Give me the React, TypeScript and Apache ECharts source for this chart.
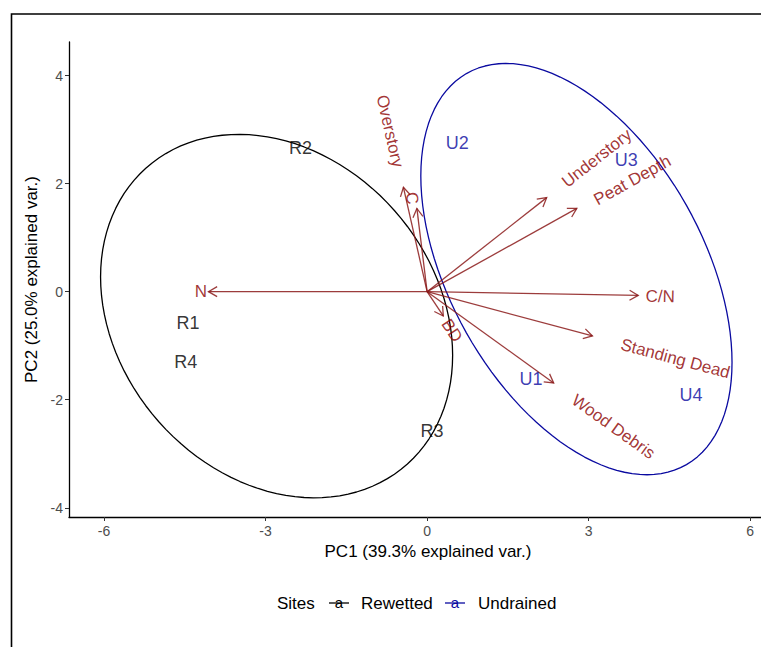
import React, { useEffect, useRef } from "react";
import * as echarts from "echarts";

// Site scores (PC1, PC2)
const siteNames = ["R1", "R2", "R3", "R4", "U1", "U2", "U3", "U4"];
const siteGroups = ["Rewetted", "Rewetted", "Rewetted", "Rewetted", "Undrained", "Undrained", "Undrained", "Undrained"];
const sitePC1 = [-4.44, -2.35, 0.09, -4.48, 1.93, 0.56, 3.7, 4.9];
const sitePC2 = [-0.58, 2.65, -2.58, -1.3, -1.61, 2.76, 2.43, -1.91];

// Variable loadings (arrow tips)
const varNames = ["N", "C/N", "Standing Dead", "Wood Debris", "BD", "Understory", "Peat Depth", "C", "Overstory"];
const varPC1 = [-4.06, 3.92, 3.07, 2.35, 0.3, 2.22, 2.78, -0.19, -0.44];
const varPC2 = [0.0, -0.07, -0.82, -1.69, -0.45, 1.74, 1.54, 1.54, 1.93];
// Label anchor positions (data units)
const varLabelPC1 = [-4.2, 4.33, 4.61, 3.46, 0.46, 3.15, 3.81, -0.28, -0.69];
const varLabelPC2 = [0.0, -0.09, -1.24, -2.5, -0.72, 2.47, 2.06, 1.73, 2.97];

const groups = ["Rewetted", "Undrained"];
const groupColors = ["#000000", "#0a0aa0"];
const xTicks = [-6, -3, 0, 3, 6];
const yTicks = [-4, -2, 0, 2, 4];

const FONT = "'Liberation Sans', Arial, sans-serif";
const VAR_COLOR = "#8B0000";

function ellipseFor(group: string): number[][] {
  const xs: number[] = [];
  const ys: number[] = [];
  siteGroups.forEach((g, i) => {
    if (g === group) {
      xs.push(sitePC1[i]);
      ys.push(sitePC2[i]);
    }
  });
  const n = xs.length;
  const mx = xs.reduce((a, b) => a + b, 0) / n;
  const my = ys.reduce((a, b) => a + b, 0) / n;
  let sxx = 0, syy = 0, sxy = 0;
  for (let i = 0; i < n; i++) {
    sxx += (xs[i] - mx) ** 2;
    syy += (ys[i] - my) ** 2;
    sxy += (xs[i] - mx) * (ys[i] - my);
  }
  sxx /= n - 1; syy /= n - 1; sxy /= n - 1;
  const a = Math.sqrt(sxx);
  const b = sxy / a;
  const c = Math.sqrt(syy - b * b);
  const ed = Math.sqrt(-2 * Math.log(1 - 0.68));
  const pts: number[][] = [];
  const N = 120;
  for (let k = 0; k <= N; k++) {
    const t = -Math.PI + (2 * Math.PI * k) / N;
    const ct = Math.cos(t), st = Math.sin(t);
    pts.push([mx + ed * ct * a, my + ed * (ct * b + st * c)]);
  }
  return pts;
}

export default function App() {
  const ref = useRef<HTMLDivElement>(null);
  useEffect(() => {
    if (!ref.current) return;
    const chart = echarts.init(ref.current, null, { renderer: "svg" });

    const ellipseSeries = groups.map((g, gi) => ({
      type: "line",
      name: g,
      data: ellipseFor(g),
      showSymbol: false,
      symbol: "none",
      smooth: false,
      lineStyle: { color: groupColors[gi], width: 1.3 },
      z: 2,
      silent: true,
    }));

    const siteSeries = {
      type: "scatter",
      symbolSize: 1,
      itemStyle: { color: "transparent" },
      data: siteNames.map((nm, i) => ({
        value: [sitePC1[i], sitePC2[i]],
        name: nm,
        label: {
          show: true,
          position: "inside",
          formatter: nm,
          color: groupColors[groups.indexOf(siteGroups[i])],
          fontSize: 18,
          fontFamily: FONT,
        },
      })),
      z: 5,
    };

    const arrowSeries = {
      type: "custom",
      coordinateSystem: "cartesian2d",
      data: varNames.map((_, i) => [varPC1[i], varPC2[i]]),
      renderItem: (params: any, api: any) => {
        const o = api.coord([0, 0]);
        const t = api.coord([api.value(0), api.value(1)]);
        const ang = Math.atan2(t[1] - o[1], t[0] - o[0]);
        const L = 10;
        const sp = Math.PI / 6;
        const p1 = [t[0] - L * Math.cos(ang - sp), t[1] - L * Math.sin(ang - sp)];
        const p2 = [t[0] - L * Math.cos(ang + sp), t[1] - L * Math.sin(ang + sp)];
        const style = { stroke: "#8B1A1A", lineWidth: 1.3, fill: "none", opacity: 0.85 };
        return {
          type: "group",
          children: [
            { type: "line", shape: { x1: o[0], y1: o[1], x2: t[0], y2: t[1] }, style },
            { type: "polyline", shape: { points: [p1, t, p2] }, style },
          ],
        };
      },
      z: 4,
      silent: true,
    };

    const varLabelSeries = {
      type: "scatter",
      symbolSize: 1,
      itemStyle: { color: "transparent" },
      data: varNames.map((nm, i) => {
        const deg = varPC1[i] === 0 ? 90 : (Math.atan(varPC2[i] / varPC1[i]) * 180) / Math.PI;
        return {
          value: [varLabelPC1[i], varLabelPC2[i]],
          name: nm,
          label: {
            show: true,
            position: "inside",
            formatter: nm,
            rotate: deg,
            color: VAR_COLOR,
            fontSize: 17,
            fontFamily: FONT,
          },
        };
      }),
      z: 6,
    };

    const legendY = 603;
    const legendGraphics: any[] = [
      { type: "text", x: 277, y: legendY, style: { text: "Sites", fontSize: 17, fontFamily: FONT, fill: "#000", align: "left", verticalAlign: "middle" } },
    ];
    const keyX = [329, 445];
    const labelX = [361, 478];
    groups.forEach((g, gi) => {
      legendGraphics.push({
        type: "text",
        x: keyX[gi] + 10,
        y: legendY - 1,
        style: { text: "a", fontSize: 15, fontFamily: FONT, fill: groupColors[gi], align: "center", verticalAlign: "middle" },
      });
      legendGraphics.push({
        type: "line",
        shape: { x1: keyX[gi], y1: legendY, x2: keyX[gi] + 20, y2: legendY },
        style: { stroke: groupColors[gi], lineWidth: 1.3 },
      });
      legendGraphics.push({
        type: "text",
        x: labelX[gi],
        y: legendY,
        style: { text: g, fontSize: 17, fontFamily: FONT, fill: "#000", align: "left", verticalAlign: "middle" },
      });
    });

    const option: any = {
      animation: false,
      backgroundColor: "#ffffff",
      textStyle: { fontFamily: FONT },
      grid: { left: 69, top: 42, right: 0, bottom: 130, containLabel: false },
      xAxis: {
        type: "value",
        min: -6.65,
        max: 6.2,
        name: "PC1 (39.3% explained var.)",
        nameLocation: "middle",
        nameGap: 26,
        nameTextStyle: { fontSize: 17, color: "#000", fontFamily: FONT, padding: [0, 0, 0, 26] },
        splitLine: { show: false },
        axisLine: { show: true, onZero: false, lineStyle: { color: "#000", width: 1.3 } },
        axisTick: { show: true, customValues: xTicks, length: 4, lineStyle: { color: "#333", width: 1 } },
        axisLabel: { customValues: xTicks, color: "#4d4d4d", fontSize: 14, margin: 7, fontFamily: FONT },
      },
      yAxis: {
        type: "value",
        min: -4.17,
        max: 4.62,
        name: "PC2 (25.0% explained var.)",
        nameLocation: "middle",
        nameGap: 21,
        nameRotate: 90,
        nameTextStyle: { fontSize: 17, color: "#000", fontFamily: FONT },
        splitLine: { show: false },
        axisLine: { show: true, onZero: false, lineStyle: { color: "#000", width: 1.3 } },
        axisTick: { show: true, customValues: yTicks, length: 4, lineStyle: { color: "#333", width: 1 } },
        axisLabel: { customValues: yTicks, color: "#4d4d4d", fontSize: 14, margin: 6, fontFamily: FONT },
      },
      graphic: [
        {
          type: "rect",
          shape: { x: 11.5, y: 14, width: 800, height: 700 },
          style: { fill: "none", stroke: "#000", lineWidth: 1.6 },
          silent: true,
          z: -1,
        },
        ...legendGraphics,
      ],
      series: [...ellipseSeries, arrowSeries, siteSeries, varLabelSeries],
    };
    chart.setOption(option);
    return () => chart.dispose();
  }, []);
  return (
    <div
      ref={ref}
      style={{ position: "absolute", left: 0, top: 0, width: 761, height: 647, overflow: "hidden" }}
    />
  );
}
